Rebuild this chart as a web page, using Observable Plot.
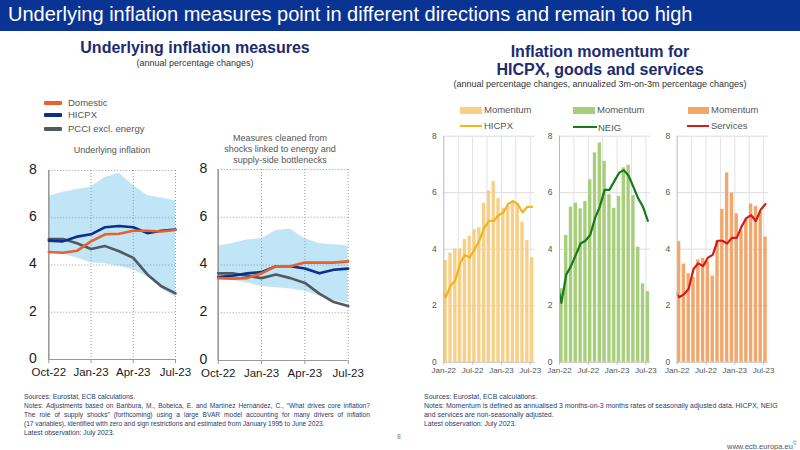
<!DOCTYPE html>
<html><head><meta charset="utf-8">
<script src="https://cdn.jsdelivr.net/npm/d3@7"></script>
<script src="https://cdn.jsdelivr.net/npm/@observablehq/plot@0.6"></script>
<style>
html,body{margin:0;padding:0}
body{width:800px;height:450px;position:relative;background:#fff;font-family:"Liberation Sans",Arial,sans-serif;overflow:hidden}
.a{position:absolute;white-space:nowrap}
.narrow{font-family:"Liberation Sans Narrow","Arial Narrow","Liberation Sans",sans-serif}
#hdr{left:0;top:0;width:800px;height:31px;background:#0a3494}
#hdr span{position:absolute;left:8px;top:3px;color:#fff;font-size:20px}
.ttl{color:#1c2a6e;font-weight:bold;font-size:16px;text-align:center}
.sub{color:#333;font-size:9px;text-align:center}
.leg{font-size:9.5px;color:#555}
.sw{position:absolute;height:4px;border-radius:1px}
.note{font-size:6.8px;color:#2b3a67;line-height:8.8px}
.jl{position:absolute;display:flex;justify-content:space-between;font-size:6.6px;color:#2b3a67;line-height:8.8px;white-space:nowrap}
.plot{position:absolute}
</style></head><body>
<script>
// ---------- data: underlying inflation (left) ----------
const underlyingMonths = ["Oct-22","Nov-22","Dec-22","Jan-23","Feb-23","Mar-23","Apr-23","May-23","Jun-23","Jul-23"];
const underlyingTicks = ["Oct-22","Jan-23","Apr-23","Jul-23"];
const domestic1 = [4.55, 4.52, 4.6, 5.0, 5.3, 5.32, 5.45, 5.45, 5.42, 5.48];
const hicpx1    = [5.03, 5.0, 5.2, 5.3, 5.6, 5.65, 5.6, 5.35, 5.45, 5.5];
const pcci1     = [5.1, 5.1, 4.92, 4.68, 4.8, 4.58, 4.3, 3.6, 3.1, 2.8];
const bandLow1  = [4.5, 4.45, 4.3, 4.1, 4.05, 3.95, 3.8, 3.5, 3.0, 2.65];
const bandHigh1 = [6.9, 7.08, 7.2, 7.3, 7.7, 7.88, 7.37, 6.94, 6.84, 6.72];

const domestic2 = [3.45, 3.43, 3.45, 3.65, 3.95, 3.95, 4.1, 4.1, 4.1, 4.15];
const hicpx2    = [3.5, 3.55, 3.65, 3.7, 3.95, 3.95, 3.85, 3.65, 3.8, 3.85];
const pcci2     = [3.65, 3.65, 3.55, 3.45, 3.6, 3.45, 3.25, 2.8, 2.45, 2.28];
const bandLow2  = [3.4, 3.35, 3.25, 3.1, 3.05, 3.0, 2.9, 2.7, 2.5, 2.4];
const bandHigh2 = [4.8, 4.9, 5.05, 5.1, 5.45, 5.5, 5.1, 4.9, 4.85, 4.8];

// ---------- data: momentum (right) ----------
const momentumMonths = ["Jan-22","Feb-22","Mar-22","Apr-22","May-22","Jun-22","Jul-22","Aug-22","Sep-22","Oct-22","Nov-22","Dec-22","Jan-23","Feb-23","Mar-23","Apr-23","May-23","Jun-23","Jul-23"];
const lineMonths = ["Dec-21"].concat(momentumMonths);
const momentumTicks = ["Jan-22","Jul-22","Jan-23","Jul-23"];
const hicpxMomentum = [3.6, 3.86, 4.01, 4.01, 4.34, 4.46, 4.69, 4.76, 5.63, 6.06, 6.4, 5.79, 5.45, 5.55, 5.7, 5.6, 4.96, 4.31, 3.7];
const hicpxAnnual   = [2.6, 2.3, 2.7, 2.9, 3.5, 3.8, 3.7, 4.0, 4.3, 4.75, 5.0, 5.0, 5.2, 5.3, 5.6, 5.7, 5.6, 5.3, 5.5, 5.5];
const neigMomentum  = [2.6, 4.49, 5.49, 5.63, 5.43, 5.69, 6.46, 7.41, 7.76, 7.11, 5.93, 5.45, 5.87, 6.88, 6.97, 5.9, 4.07, 2.77, 2.5];
const neigAnnual    = [2.9, 2.1, 3.1, 3.4, 3.8, 4.2, 4.3, 4.5, 5.1, 5.5, 6.1, 6.1, 6.4, 6.7, 6.8, 6.6, 6.2, 5.8, 5.5, 5.0];
const servMomentum  = [4.27, 3.47, 3.13, 3.0, 3.62, 3.68, 3.55, 3.05, 4.3, 5.41, 6.7, 5.99, 5.25, 4.65, 5.05, 5.6, 5.51, 5.3, 4.43];
const servAnnual    = [2.5, 2.3, 2.4, 2.6, 3.3, 3.5, 3.4, 3.7, 3.8, 4.3, 4.3, 4.2, 4.4, 4.4, 4.8, 5.1, 5.2, 5.0, 5.4, 5.6];

const yTicks = [0, 2, 4, 6, 8];

function justLine(text, left, top, width) {
  return `<div class="jl" style="left:${left}px;top:${top}px;width:${width}px">` +
    text.split(" ").map(w => `<span>${w}</span>`).join("") + `</div>`;
}

// ---------- static text ----------
const html = `
<div id="hdr" class="a"><span class="narrow">Underlying inflation measures point in different directions and remain too high</span></div>
<div class="a ttl narrow" style="left:40px;top:39px;width:310px">Underlying inflation measures</div>
<div class="a sub narrow" style="left:40px;top:58px;width:310px">(annual percentage changes)</div>
<div class="a ttl narrow" style="left:440px;top:43px;width:320px">Inflation momentum for</div>
<div class="a ttl narrow" style="left:440px;top:61px;width:320px">HICPX, goods and services</div>
<div class="a sub narrow" style="left:420px;top:79px;width:360px">(annual percentage changes, annualized 3m-on-3m percentage changes)</div>

<div class="sw" style="left:44px;top:101px;width:18px;background:#e8602a"></div>
<div class="a leg" style="left:68px;top:97px">Domestic</div>
<div class="sw" style="left:44px;top:113px;width:18px;background:#0b2f8a"></div>
<div class="a leg" style="left:68px;top:109px">HICPX</div>
<div class="sw" style="left:44px;top:127px;width:18px;background:#545860"></div>
<div class="a leg" style="left:68px;top:123px">PCCI excl. energy</div>

<div class="a leg" style="left:60px;top:145px;width:104px;text-align:center;font-size:9px">Underlying inflation</div>
<div class="a leg" style="left:220px;top:133px;width:120px;text-align:center;font-size:9px;line-height:11px">Measures cleaned from<br>shocks linked to energy and<br>supply-side bottlenecks</div>

<div class="a" style="left:460px;top:107px;width:22px;height:7px;background:#f8cf86"></div>
<div class="a leg" style="left:484px;top:104px">Momentum</div>
<div class="a" style="left:460px;top:124.5px;width:22px;height:2px;background:#f0b41c"></div>
<div class="a leg" style="left:484px;top:120px">HICPX</div>

<div class="a" style="left:573px;top:107px;width:22px;height:7px;background:#a6ce7b"></div>
<div class="a leg" style="left:597px;top:104px">Momentum</div>
<div class="a" style="left:573px;top:126px;width:24px;height:2px;background:#1a7a1a"></div>
<div class="a leg" style="left:598px;top:121.5px">NEIG</div>

<div class="a" style="left:688px;top:107px;width:21px;height:7px;background:#f2a66a"></div>
<div class="a leg" style="left:711px;top:104px">Momentum</div>
<div class="a" style="left:687px;top:124.5px;width:22px;height:2.5px;background:#d41a1a"></div>
<div class="a leg" style="left:711px;top:120px">Services</div>

<div class="a note" style="left:24px;top:393px">Sources: Eurostat, ECB calculations.</div>
${justLine("Notes: Adjustments based on Bańbura, M., Bobeica, E. and Martínez Hernández, C., “What drives core inflation?", 24, 402, 346)}
${justLine("The role of supply shocks” (forthcoming) using a large BVAR model accounting for many drivers of inflation", 24, 411, 346)}
<div class="a note" style="left:24px;top:420px;font-size:6.6px">(17 variables), identified with zero and sign restrictions and estimated from January 1995 to June 2023.</div>
<div class="a note" style="left:24px;top:428.5px">Latest observation: July 2023.</div>

<div class="a note" style="left:424px;top:393px;font-size:6.95px">Sources: Eurostat, ECB calculations.</div>
<div class="a note" style="left:424px;top:402px;font-size:6.95px">Notes: Momentum is defined as annualised 3 months-on-3 months rates of seasonally adjusted data. HICPX, NEIG</div>
<div class="a note" style="left:424px;top:411px;font-size:6.95px">and services are non-seasonally adjusted.</div>
<div class="a note" style="left:424px;top:420px;font-size:6.95px">Latest observation: July 2023.</div>

<div class="a note" style="left:397px;top:433px;color:#777">8</div>
<div class="a note" style="left:727px;top:439px;color:#555;font-size:7.5px">www.ecb.europa.eu<sup style="font-size:5px">©</sup></div>
`;
document.body.insertAdjacentHTML("beforeend", html);

function place(svg, left, top) {
  const d = document.createElement("div");
  d.className = "plot";
  d.style.left = left + "px";
  d.style.top = top + "px";
  d.appendChild(svg);
  document.body.appendChild(d);
}

function leftPanel(dom, hic, pcc, lo, hi, m) {
  const rows = underlyingMonths.map((mm, i) => ({i, dom: dom[i], hic: hic[i], pcc: pcc[i], lo: lo[i], hi: hi[i]}));
  const tickIdx = underlyingTicks.map(t => underlyingMonths.indexOf(t));
  return Plot.plot({
    width: m.width, height: 225,
    marginLeft: m.left, marginRight: m.right, marginTop: m.top, marginBottom: m.bottom,
    style: {fontFamily: "Liberation Sans, Arial, sans-serif", background: "transparent", overflow: "visible", color: "#1a1a1a"},
    x: {domain: [0, underlyingMonths.length - 1], axis: null},
    y: {domain: [0, 8], axis: null},
    marks: [
      Plot.areaY(rows, {x: "i", y1: "lo", y2: "hi", fill: "#bfe5f7"}),
      Plot.ruleY([2, 4, 6, 8], {stroke: "#9a9a9a", strokeDasharray: "1,2"}),
      Plot.ruleX(tickIdx.slice(1), {stroke: "#9a9a9a", strokeDasharray: "1,2"}),
      Plot.ruleX([0], {stroke: "#999", strokeWidth: 1.6}),
      Plot.ruleY([0], {stroke: "#999", strokeWidth: 1.2}),
      Plot.axisX(tickIdx, {tickFormat: i => underlyingMonths[i], label: null, fontSize: 11.5, tickSize: 4, tickPadding: 4, stroke: "#999"}),
      Plot.axisY(yTicks, {label: null, tickSize: 0, tickPadding: m.pad, fontSize: 14, dy: -1}),
      Plot.line(rows, {x: "i", y: "pcc", stroke: "#545860", strokeWidth: 2.6}),
      Plot.line(rows, {x: "i", y: "hic", stroke: "#0b2f8a", strokeWidth: 2.6}),
      Plot.line(rows, {x: "i", y: "dom", stroke: "#e8602a", strokeWidth: 2.6})
    ]
  });
}

function rightPanel(mom, ann, barColor, lineColor, m) {
  const bars = momentumMonths.map((mm, i) => ({i, v: mom[i]}));
  const line = lineMonths.map((mm, j) => ({i: j - 1, v: ann[j]}));
  const tickIdx = momentumTicks.map(t => momentumMonths.indexOf(t));
  return Plot.plot({
    width: m.width, height: 255,
    marginLeft: m.left, marginRight: m.right, marginTop: 10.7, marginBottom: 18.3,
    style: {fontFamily: "Liberation Sans, Arial, sans-serif", background: "transparent", overflow: "visible", color: "#555"},
    x: {domain: [0, momentumMonths.length], axis: null},
    y: {domain: [0, 8], axis: null},
    marks: [
      Plot.ruleY([2, 4, 6, 8], {stroke: "#dcdcdc"}),
      Plot.ruleX([3, 6, 9, 12, 15, 18], {stroke: "#e2e2e2"}),
      Plot.rectY(bars, {x1: d => d.i + 0.05, x2: d => d.i + 0.75, y: "v", fill: barColor}),
      Plot.line(line, {x: d => d.i + 0.4, y: "v", stroke: lineColor, strokeWidth: 2.2, clip: true}),
      Plot.ruleX([0], {stroke: "#bbb"}),
      Plot.ruleY([0], {stroke: "#bbb"}),
      Plot.axisX(tickIdx, {tickFormat: i => momentumMonths[i], label: null, fontSize: 8, tickSize: 3, tickPadding: 2, stroke: "#bbb"}),
      Plot.axisY(yTicks, {label: null, tickSize: 0, tickPadding: 7, fontSize: 8.5})
    ]
  });
}

place(leftPanel(domestic1, hicpx1, pcci1, bandLow1, bandHigh1, {width: 190, left: 48.3, right: 15, top: 10, bottom: 26, pad: 12}), 0, 160);
place(leftPanel(domestic2, hicpx2, pcci2, bandLow2, bandHigh2, {width: 175, left: 27.7, right: 17.3, top: 9, bottom: 25, pad: 11}), 190, 160);
place(rightPanel(hicpxMomentum, hicpxAnnual, "#f8cf86", "#f0b41c", {width: 140, left: 43.3, right: 5.5}), 400, 125);
place(rightPanel(neigMomentum, neigAnnual, "#a6ce7b", "#1a7a1a", {width: 140, left: 39, right: 9.8}), 520, 125);
place(rightPanel(servMomentum, servAnnual, "#f2a66a", "#d41a1a", {width: 140, left: 36.7, right: 12.1}), 640, 125);
</script>
</body></html>
